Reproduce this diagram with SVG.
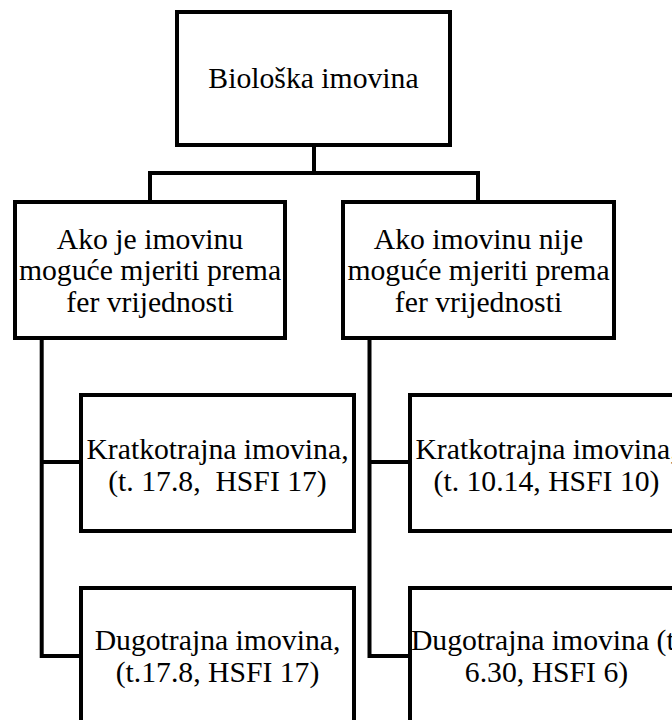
<svg xmlns="http://www.w3.org/2000/svg" width="672" height="720" viewBox="0 0 672 720">
<style>
.box{fill:#fff;stroke:#000;stroke-width:4}
.con{fill:none;stroke:#000;stroke-width:4;stroke-linejoin:miter}
text{font-family:"Liberation Serif","Times New Roman",serif;font-size:29.7px;fill:#000;text-anchor:middle}
</style>
<rect width="672" height="720" fill="#fff"/>
<g id="connectors">
<path class="con" d="M314 145 V173 M150 202 V173 H478 V202"/>
<path class="con" d="M41.7 338 V656 H81 M41.7 462 H81"/>
<path class="con" d="M369.5 338 V656 H410 M369.5 462 H410"/>
</g>
<g id="n-bioloska">
<rect class="box" x="177" y="12" width="273" height="133"/>
<text x="313.5" y="88">Biološka imovina</text>
</g>
<g id="n-ako-je">
<rect class="box" x="15" y="202" width="270" height="136"/>
<text x="150" y="248.5">Ako je imovinu</text>
<text x="150" y="280">moguće mjeriti prema</text>
<text x="150" y="311.5">fer vrijednosti</text>
</g>
<g id="n-ako-nije">
<rect class="box" x="343" y="202" width="271" height="136"/>
<text x="478.5" y="248.5">Ako imovinu nije</text>
<text x="478.5" y="280">moguće mjeriti prema</text>
<text x="478.5" y="311.5">fer vrijednosti</text>
</g>
<g id="n-kratko-1">
<rect class="box" x="81" y="395" width="273" height="136"/>
<text x="217.5" y="458.5">Kratkotrajna imovina,</text>
<text x="217.5" y="491" xml:space="preserve">(t. 17.8,  HSFI 17)</text>
</g>
<g id="n-dugo-1">
<rect class="box" x="81" y="588" width="273" height="180"/>
<text x="217.5" y="650">Dugotrajna imovina,</text>
<text x="217.5" y="682">(t.17.8, HSFI 17)</text>
</g>
<g id="n-kratko-2">
<rect class="box" x="410" y="395" width="273" height="136"/>
<text x="546.5" y="458.5">Kratkotrajna imovina,</text>
<text x="546.5" y="491">(t. 10.14, HSFI 10)</text>
</g>
<g id="n-dugo-2">
<rect class="box" x="410" y="588" width="273" height="180"/>
<text x="546.5" y="650">Dugotrajna imovina (t.</text>
<text x="546.5" y="682">6.30, HSFI 6)</text>
</g>
</svg>
